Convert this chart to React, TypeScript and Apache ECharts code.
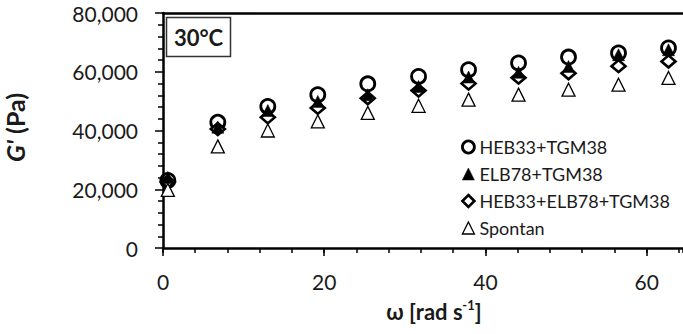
import React, { useEffect, useRef } from "react";
import * as echarts from "echarts";

const omega = [0.6, 6.8, 13.0, 19.2, 25.4, 31.7, 37.9, 44.1, 50.3, 56.5, 62.7];
const hebTgm = [23000, 42800, 48200, 52200, 55900, 58400, 60700, 63000, 65000, 66400, 68100];
const elbTgm = [24000, 41100, 46800, 49900, 52200, 55000, 58200, 59800, 61800, 65800, 67500];
const hebElbTgm = [22500, 40500, 44500, 47700, 51000, 53600, 56000, 58000, 59500, 61900, 63500];
const spontan = [19800, 34600, 40000, 43100, 46000, 48400, 50500, 52200, 53900, 55600, 57900];
const seriesNames = ["HEB33+TGM38", "ELB78+TGM38", "HEB33+ELB78+TGM38", "Spontan"];

const FONT = "Lato, 'Open Sans', sans-serif";
const TXT = "#1a1a1a";

const pairs = (ys: number[]) => omega.map((x, i) => [x, ys[i]]);

export default function App() {
  const ref = useRef<HTMLDivElement>(null);
  useEffect(() => {
    if (!ref.current) return;
    const chart = echarts.init(ref.current, null, { renderer: "svg" });
    const xMin = 0;
    const xMax = 64.5;
    chart.setOption({
      animation: false,
      backgroundColor: "#ffffff",
      textStyle: { fontFamily: FONT },
      grid: { left: 163, right: 0, top: 13, bottom: 86, containLabel: false, outerBoundsMode: "none" },
      xAxis: [
        {
          type: "value",
          position: "bottom",
          min: xMin,
          max: xMax,
          interval: 20,
          axisLine: { show: true, onZero: false, lineStyle: { color: "#000", width: 2.5 } },
          axisTick: { show: true, length: 8, lineStyle: { color: "#000", width: 1.5 } },
          splitLine: { show: false },
          axisLabel: {
            margin: 23,
            fontSize: 21,
            color: TXT,
            fontFamily: FONT,
            showMaxLabel: false,
            formatter: (v: number) => (v % 20 === 0 ? String(v) : ""),
          },
          name: "{b|ω [rad s}{sup|-1}{b|]}",
          nameLocation: "middle",
          nameGap: 50,
          nameTextStyle: {
            padding: [0, 0, 0, 22],
            rich: {
              b: { fontSize: 22, fontWeight: "bold", color: TXT, fontFamily: FONT, lineHeight: 26 },
              sup: { fontSize: 13, fontWeight: "bold", color: TXT, fontFamily: FONT, verticalAlign: "top", lineHeight: 14 },
            },
          },
        },
        {
          type: "value",
          position: "bottom",
          min: xMin,
          max: xMax,
          interval: 4,
          axisLine: { show: false },
          axisTick: { show: true, length: 5, lineStyle: { color: "#000", width: 1.5 } },
          axisLabel: { show: false },
          splitLine: { show: false },
        },
        {
          type: "value",
          position: "top",
          min: xMin,
          max: xMax,
          axisLine: { show: true, onZero: false, lineStyle: { color: "#000", width: 2.5 } },
          axisTick: { show: false },
          axisLabel: { show: false },
          splitLine: { show: false },
        },
      ],
      yAxis: {
        type: "value",
        min: 0,
        max: 80000,
        interval: 20000,
        axisLine: { show: true, onZero: false, lineStyle: { color: "#000", width: 2.5 } },
        axisTick: { show: true, length: 8, lineStyle: { color: "#000", width: 1.5 } },
        minorTick: { show: true, splitNumber: 5, length: 5, lineStyle: { color: "#000", width: 1.5 } },
        splitLine: { show: false },
        axisLabel: {
          margin: 25,
          fontSize: 21,
          color: TXT,
          fontFamily: FONT,
          formatter: (v: number) => v.toLocaleString("en-US"),
        },
        name: "{i|G'}{b| (Pa)}",
        nameLocation: "middle",
        nameGap: 136,
        nameRotate: 90,
        nameTextStyle: {
          padding: [0, 0, 0, 6],
          rich: {
            i: { fontSize: 25, fontWeight: "bold", fontStyle: "italic", color: TXT, fontFamily: FONT },
            b: { fontSize: 25, fontWeight: "bold", color: TXT, fontFamily: FONT },
          },
        },
      },
      legend: {
        orient: "vertical",
        left: 456,
        top: 133,
        itemWidth: 12,
        itemHeight: 12,
        itemGap: 9,
        itemStyle: { borderWidth: "inherit" },
        textStyle: { fontSize: 18, color: TXT, fontFamily: FONT },
        data: seriesNames,
      },
      graphic: [
        {
          type: "rect",
          shape: { x: 166.5, y: 17.5, width: 64, height: 39 },
          style: { fill: "#fff", stroke: "#333", lineWidth: 1.5 },
          z: 10,
        },
        {
          type: "text",
          x: 198.5,
          y: 37,
          style: {
            text: "30°C",
            fontSize: 22,
            fontWeight: "bold",
            fontFamily: FONT,
            fill: TXT,
            align: "center",
            verticalAlign: "middle",
          },
          z: 11,
        },
      ],
      series: [
        {
          name: seriesNames[0],
          type: "scatter",
          data: pairs(hebTgm),
          symbol: "circle",
          symbolSize: 14,
          itemStyle: { color: "rgba(255,255,255,0)", borderColor: "#000", borderWidth: 2.8, opacity: 1 },
          z: 2,
        },
        {
          name: seriesNames[1],
          type: "scatter",
          data: pairs(elbTgm),
          symbol: "triangle",
          symbolSize: 12,
          itemStyle: { color: "#000", borderColor: "#000", borderWidth: 0.5, opacity: 1 },
          z: 4,
        },
        {
          name: seriesNames[2],
          type: "scatter",
          data: pairs(hebElbTgm),
          symbol: "diamond",
          symbolSize: [14, 12],
          itemStyle: { color: "#ffffff", borderColor: "#000", borderWidth: 2.6, opacity: 1 },
          z: 3,
        },
        {
          name: seriesNames[3],
          type: "scatter",
          data: pairs(spontan),
          symbol: "triangle",
          symbolSize: 13,
          itemStyle: { color: "#ffffff", borderColor: "#000", borderWidth: 1.3, opacity: 1 },
          z: 5,
        },
      ],
    });
    return () => chart.dispose();
  }, []);
  return (
    <div
      ref={ref}
      style={{ position: "fixed", left: 0, top: 0, width: 683, height: 334, background: "#fff" }}
    />
  );
}
